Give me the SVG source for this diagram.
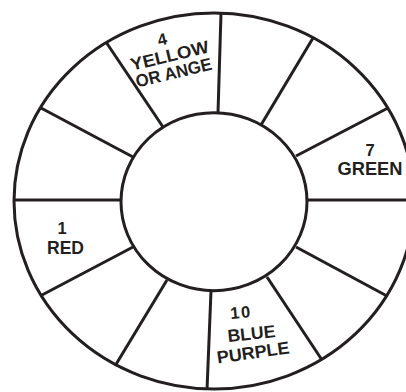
<svg xmlns="http://www.w3.org/2000/svg" width="406" height="392" viewBox="0 0 406 392">
<style>
.ln{stroke:#231f20;stroke-width:3;fill:none;stroke-linecap:butt}
.t{font-family:"Liberation Sans",Arial,sans-serif;font-weight:bold;fill:#231f20;text-anchor:middle}
.w{font-size:17.5px}
.n{font-size:16.5px}
</style>
<rect width="406" height="392" fill="#ffffff"/>
<g id="connectors" class="ln">
<line x1="221" y1="13" x2="218" y2="113"/>
<line x1="106" y1="42" x2="163" y2="127"/>
<line x1="41" y1="108" x2="133" y2="157"/>
<line x1="14" y1="200" x2="121" y2="200"/>
<line x1="42" y1="295" x2="133" y2="247"/>
<line x1="115" y1="366" x2="167" y2="280"/>
<line x1="207" y1="390" x2="211" y2="291"/>
<line x1="322" y1="360" x2="267" y2="277"/>
<line x1="387" y1="296" x2="296" y2="247"/>
<line x1="406" y1="200" x2="307" y2="200"/>
<line x1="388" y1="108" x2="296" y2="156"/>
<line x1="313" y1="38" x2="261" y2="125"/>
</g>
<g id="outer-ring"><ellipse class="ln" cx="214" cy="201" rx="200" ry="188"/></g>
<g id="inner-circle"><ellipse class="ln" cx="214" cy="201.7" rx="93" ry="89" fill="#ffffff"/></g>
<g id="seg-1-red">
<text class="t n" x="62" y="234">1</text>
<text class="t w" x="65.5" y="254" textLength="37" lengthAdjust="spacingAndGlyphs">RED</text>
</g>
<g id="seg-4-yellow-orange" transform="translate(171 61.5) rotate(-13.5)">
<text class="t n" x="-3.5" y="-18">4</text>
<text class="t w" x="0" y="0" textLength="80" lengthAdjust="spacingAndGlyphs">YELLOW</text>
<text class="t w" x="0" y="17.5" textLength="78" lengthAdjust="spacingAndGlyphs">OR ANGE</text>
</g>
<g id="seg-7-green">
<text class="t n" x="370" y="156">7</text>
<text class="t w" x="370" y="175" textLength="65" lengthAdjust="spacingAndGlyphs">GREEN</text>
</g>
<g id="seg-10-blue-purple">
<text class="t n" transform="translate(241.5 318) rotate(-5)" x="0" y="0" letter-spacing="1.5">10</text>
<text class="t w" transform="translate(252 339.5) rotate(-6)" x="0" y="0" textLength="48" lengthAdjust="spacingAndGlyphs">BLUE</text>
<text class="t w" transform="translate(254 358.5) rotate(-8)" x="0" y="0" textLength="73" lengthAdjust="spacingAndGlyphs">PURPLE</text>
</g>
</svg>
